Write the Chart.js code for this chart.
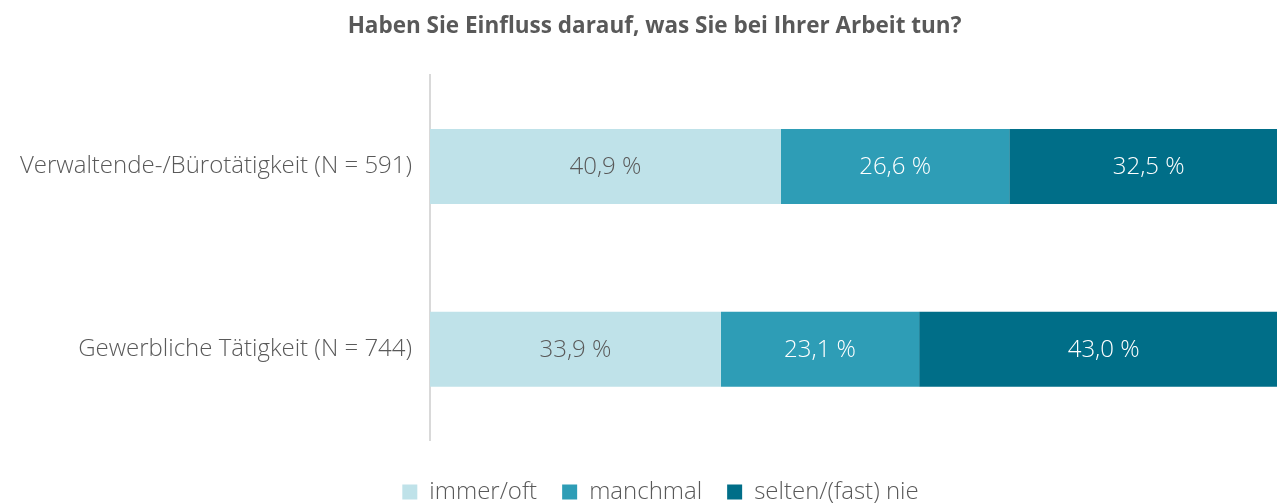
<!DOCTYPE html>
<html>
<head>
<meta charset="utf-8">
<script src="https://cdn.jsdelivr.net/npm/chart.js@4.4.0/dist/chart.umd.min.js"></script>
<style>
  body { margin: 0; background: #fff; overflow: hidden; }
  /* the legend of the original is cut off at the bottom of the window */
  #wrap { width: 1277px; height: 514px; }
</style>
</head>
<body>
<div id="wrap"><canvas id="myChart"></canvas></div>
<script>
var categories = ['Verwaltende-/Bürotätigkeit (N = 591)', 'Gewerbliche Tätigkeit (N = 744)'];
var seriesNames = ['immer/oft', 'manchmal', 'selten/(fast) nie'];
var immerOft = [40.9, 33.9];
var manchmal = [26.6, 23.1];
var seltenNie = [32.5, 43.0];
var colors = ['#bfe2e9', '#2e9db6', '#006e88'];
var labelColors = ['#595959', '#ffffff', '#ffffff'];

var fontFamily = "'Open Sans', 'Noto Sans', sans-serif";

// draws the percentage text inside each segment
var barLabels = {
    id: 'barLabels',
    afterDatasetsDraw: function (chart) {
        var ctx = chart.ctx;
        ctx.save();
        ctx.font = '300 24px ' + fontFamily;
        ctx.textAlign = 'center';
        ctx.textBaseline = 'middle';
        chart.data.datasets.forEach(function (ds, i) {
            var meta = chart.getDatasetMeta(i);
            meta.data.forEach(function (bar, j) {
                var v = ds.data[j];
                var cx = (bar.x + bar.base) / 2;
                ctx.fillStyle = labelColors[i];
                ctx.fillText(v.toFixed(1).replace('.', ',') + ' %', cx, bar.y + 1);
            });
        });
        ctx.restore();
    }
};

// title and legend are centred a little right of the page centre in the original
var shiftBoxes = {
    id: 'shiftBoxes',
    afterUpdate: function (chart) {
        chart.titleBlock.left += 16;
        chart.titleBlock.right += 16;
        chart.legend.left += 22;
        chart.legend.right += 22;
    }
};

var data = {
    labels: categories,
    datasets: [
        { label: seriesNames[0], data: immerOft, backgroundColor: colors[0] },
        { label: seriesNames[1], data: manchmal, backgroundColor: colors[1] },
        { label: seriesNames[2], data: seltenNie, backgroundColor: colors[2] }
    ]
};

new Chart(document.getElementById('myChart').getContext('2d'), {
    type: 'bar',
    data: data,
    plugins: [barLabels, shiftBoxes],
    options: {
        indexAxis: 'y',
        responsive: true,
        maintainAspectRatio: false,
        animation: false,
        datasets: {
            bar: { categoryPercentage: 1, barPercentage: 0.41, borderWidth: 0 }
        },
        layout: { padding: 0 },
        scales: {
            // the bars run a little past the right edge of the window in the original
            x: { stacked: true, min: 0, max: 98.7, display: false },
            y: {
                stacked: true,
                afterFit: function (scale) { scale.width = 430; }, // axis line sits at x=430
                grid: { display: false },
                border: { display: true, color: '#d9d9d9', width: 2 },
                ticks: { color: '#595959', padding: 10, font: { family: fontFamily, size: 24, weight: '300' } }
            }
        },
        plugins: {
            tooltip: { enabled: false },
            title: {
                display: true,
                text: 'Haben Sie Einfluss darauf, was Sie bei Ihrer Arbeit tun?',
                color: '#595959',
                font: { family: fontFamily, size: 22.5, weight: 'bold' },
                padding: { top: 13, bottom: 35 }
            },
            legend: {
                position: 'bottom',
                // empty title only adds some px above the items
                title: { display: true, text: '', font: { size: 1 }, padding: { top: 0, bottom: 13 } },
                labels: {
                    color: '#595959',
                    boxWidth: 15,
                    boxHeight: 15,
                    padding: 25,
                    font: { family: fontFamily, size: 24, weight: '300' }
                }
            }
        }
    }
});
</script>
</body>
</html>
